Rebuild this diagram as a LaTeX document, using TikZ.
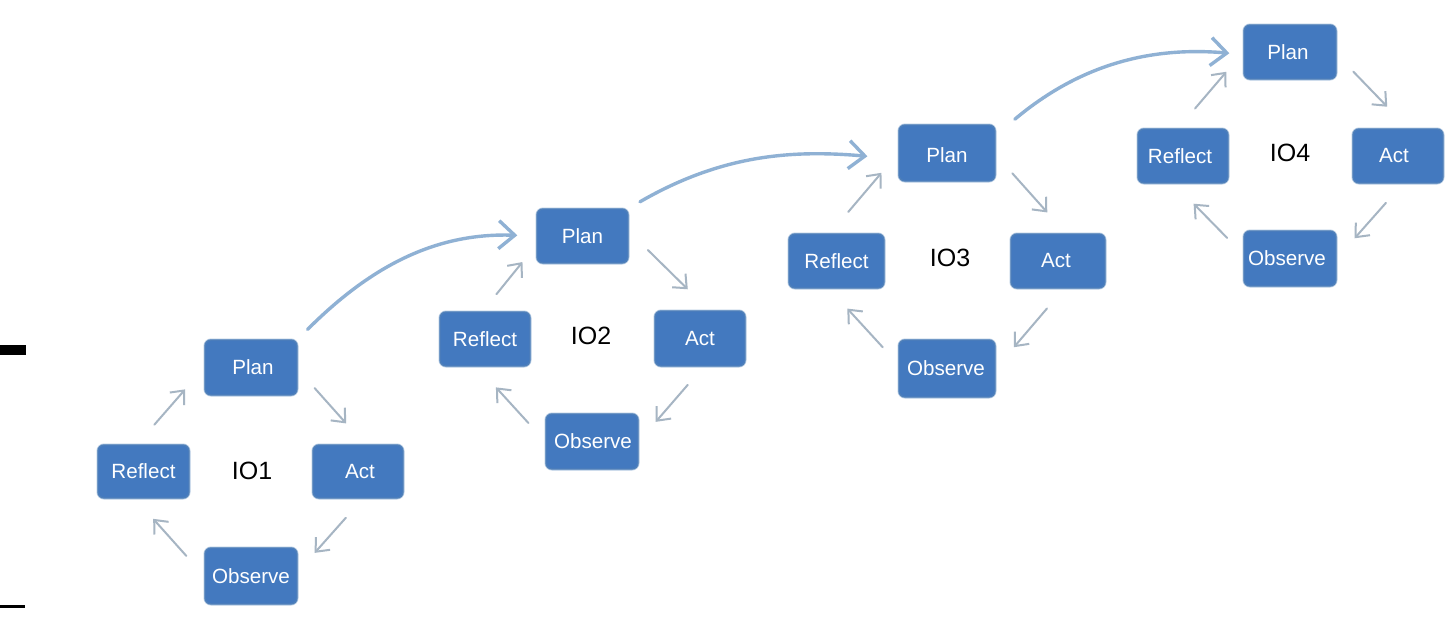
\documentclass[tikz,border=0pt]{standalone}
\usepackage{fontspec}
\setmainfont{Liberation Sans}
\usetikzlibrary{arrows.meta}
\definecolor{boxfill}{HTML}{4379BF}
\definecolor{boxedge}{HTML}{4E7FB9}
\definecolor{boxhalo}{HTML}{B4CAE2}
\definecolor{cyclearrow}{HTML}{A6B5C3}
\definecolor{linkarrow}{HTML}{8FB1D4}
\newcommand{\tsh}[1]{\hspace*{#1pt}}
\tikzset{
  box/.style={draw=boxedge,line width=1.4pt,fill=boxfill,rounded corners=6pt,inner sep=0pt,
    text=white,font=\fontsize{20.6}{24}\selectfont,
    preaction={draw=boxhalo,line width=3pt}},
  lbl/.style={inner sep=0pt,text=black,font=\fontsize{25}{30}\selectfont},
  cyc/.style={draw=cyclearrow,line width=2pt,line cap=round,
    -{Straight Barb[length=11pt,width=19pt,line width=2pt]}},
  lnk/.style={draw=linkarrow,line width=3.4pt,line cap=round,
    -{Straight Barb[length=16pt,width=28pt,line width=3.4pt]}},
  s/.style n args={2}{shorten <=#1pt,shorten >=#2pt}
}
\begin{document}
\begin{tikzpicture}[x=1pt,y=-1pt]
\useasboundingbox (0,0) rectangle (1452,621);
\fill[white] (0,0) rectangle (1452,621);
\fill[black] (0,345) rectangle (26,355);
\fill[black] (0,605) rectangle (25,607.5);
% IO1
\node[box,minimum width=92pt,minimum height=55pt] (plan1) at (251,367.5) {\tsh{4}Plan};
\node[box,minimum width=91pt,minimum height=53pt] (reflect1) at (143.5,471.5) {Reflect};
\node[box,minimum width=90pt,minimum height=53pt] (act1) at (358,471.5) {\tsh{4}Act};
\node[box,minimum width=92pt,minimum height=56pt] (observe1) at (251,576) {Observe};
\node[lbl] (io1) at (252,471) {IO1};
% IO2
\node[box,minimum width=91pt,minimum height=54pt] (plan2) at (582.5,236) {Plan};
\node[box,minimum width=90pt,minimum height=54pt] (reflect2) at (485,339) {Reflect};
\node[box,minimum width=90pt,minimum height=55pt] (act2) at (700,338.5) {Act};
\node[box,minimum width=92pt,minimum height=55pt] (observe2) at (592,441.5) {\tsh{2}Observe};
\node[lbl] (io2) at (591,336) {IO2};
% IO3
\node[box,minimum width=96pt,minimum height=56pt] (plan3) at (947,153) {\raisebox{0pt}[\dimexpr\height+4pt][\depth]{Plan}};
\node[box,minimum width=95pt,minimum height=54pt] (reflect3) at (836.5,261) {Reflect};
\node[box,minimum width=94pt,minimum height=54pt] (act3) at (1058,261) {\tsh{-4}Act};
\node[box,minimum width=96pt,minimum height=57pt] (observe3) at (947,368.5) {\tsh{-2}Observe};
\node[lbl] (io3) at (950,258) {IO3};
% IO4
\node[box,minimum width=92pt,minimum height=54pt] (plan4) at (1290,52) {\tsh{-4}Plan};
\node[box,minimum width=90pt,minimum height=54pt] (reflect4) at (1183,156) {\tsh{-6}Reflect};
\node[box,minimum width=90pt,minimum height=54pt] (act4) at (1398,156) {\tsh{-8}Act};
\node[box,minimum width=92pt,minimum height=55pt] (observe4) at (1290,258.5) {\tsh{-6}Observe};
\node[lbl] (io4) at (1290,153) {IO4};
% cycles
\draw[cyc,s={26}{29}] (reflect1.103) -- (plan1.west);
\draw[cyc,s={25.5}{28}] (plan1.-2) -- (act1.76);
\draw[cyc,s={25.5}{25.5}] (act1.-80) -- (observe1.5);
\draw[cyc,s={27}{27}] (observe1.west) -- (reflect1.-107);
\draw[cyc,s={22}{22}] (reflect2.95) -- (plan2.191);
\draw[cyc,s={27}{30}] (plan2.6) -- (act2.72);
\draw[cyc,s={24}{26}] (act2.-83) -- (observe2.east);
\draw[cyc,s={25}{28}] (observe2.west) -- (reflect2.-106);
\draw[cyc,s={28}{26}] (reflect3.103) -- (plan3.west);
\draw[cyc,s={25}{28}] (plan3.-2) -- (act3.74);
\draw[cyc,s={26}{28}] (act3.-78) -- (observe3.east);
\draw[cyc,s={23}{27}] (observe3.175) -- (reflect3.-105);
\draw[cyc,s={26}{26}] (reflect4.100) -- (plan4.west);
\draw[cyc,s={24}{30}] (plan4.-3) -- (act4.70);
\draw[cyc,s={25.5}{27}] (act4.-80) -- (observe4.east);
\draw[cyc,s={23}{28}] (observe4.175) -- (reflect4.-108);
% links
\draw[lnk,s={14}{19}] (plan1.north east) to[out=45,in=178] (plan2.west);
\draw[lnk,s={13}{31}] (plan2.north east) to[out=30,in=175] (plan3.187);
\draw[lnk,s={25}{14}] (plan3.20) to[out=40,in=175] (plan4.183);
\end{tikzpicture}
\end{document}
